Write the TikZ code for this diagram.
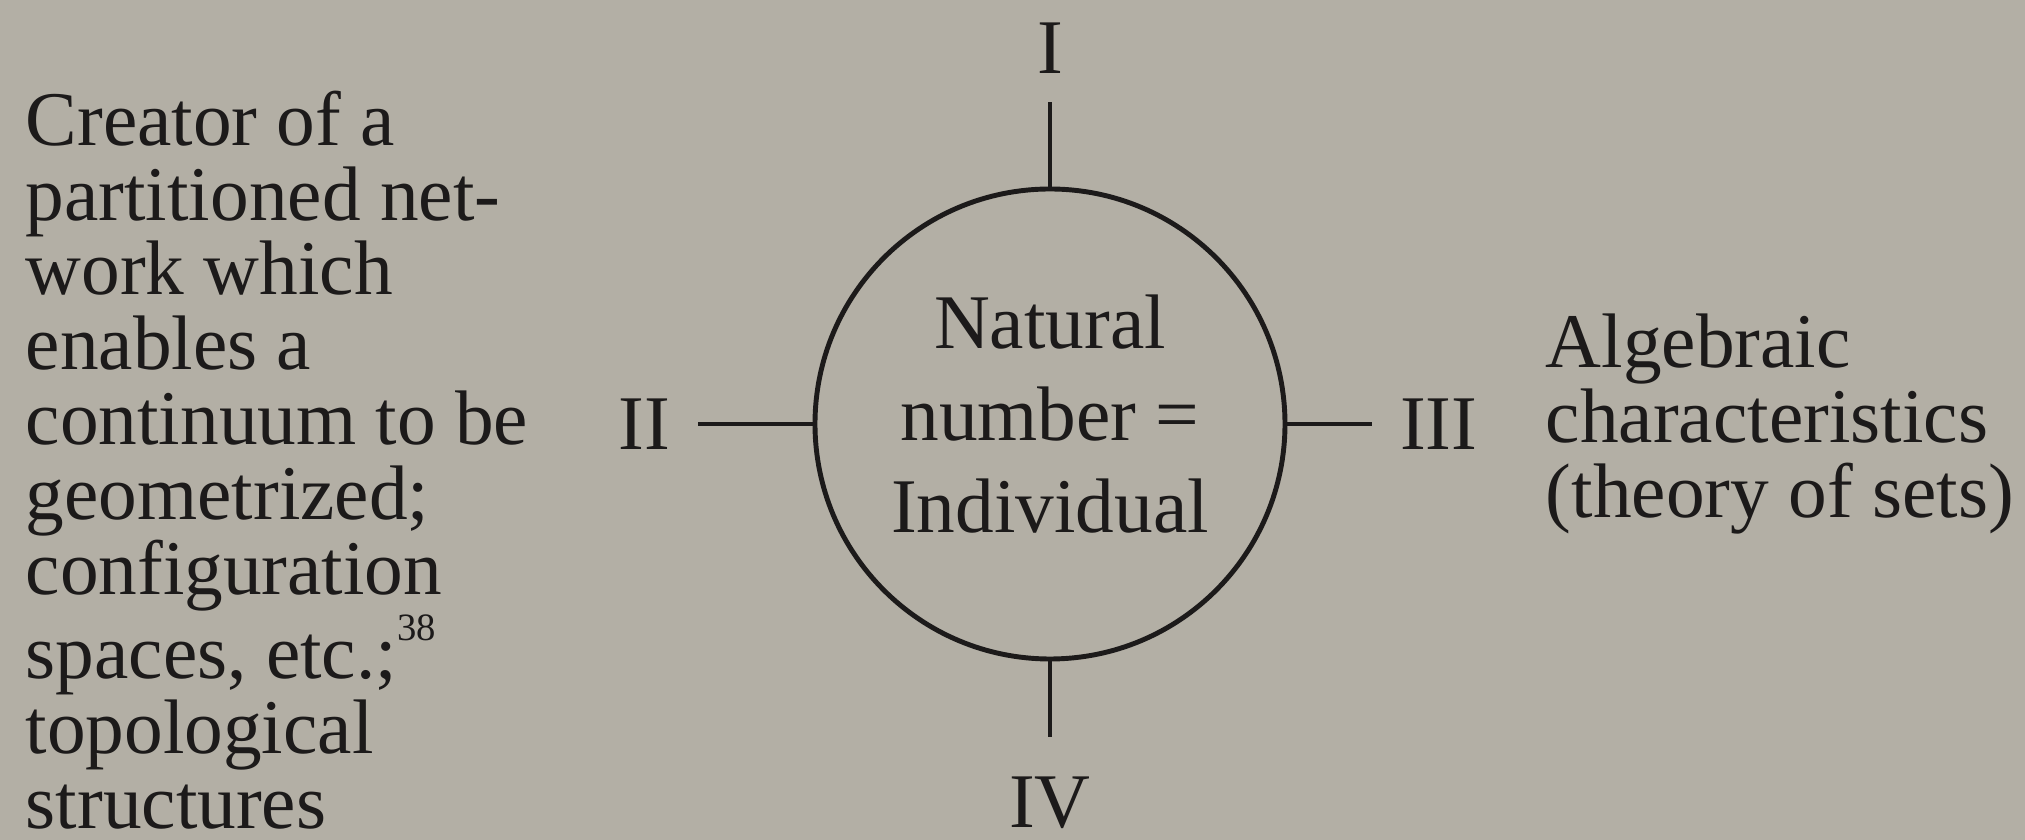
\documentclass[tikz,border=0pt]{standalone}
\usepackage{fontspec}
\setmainfont{Liberation Serif}
\usetikzlibrary{positioning}
\definecolor{paper}{HTML}{B3AFA5}
\definecolor{ink}{HTML}{1C1A1A}
\tikzset{
    numcircle/.style={
        circle, draw=ink, line width=1.4pt, minimum size=4.7cm,
        inner sep=0pt, text=ink, align=center, text depth=0.2cm,
        font=\fontsize{22}{26.2}\selectfont
    },
    romlab/.style={
        font=\fontsize{22}{22}\selectfont, text=ink, inner sep=0.27cm
    },
    sidetext/.style={
        font=\fontsize{22}{21.3}\selectfont, text=ink,
        align=left, inner sep=0pt
    },
    tickline/.style={
        draw=ink, line width=1.4pt
    },
}
\begin{document}
\begin{tikzpicture}

    % page
    \fill[paper] (0,0) rectangle (20.25,8.4);
    \useasboundingbox (0,0) rectangle (20.25,8.4);

    % centre circle
    \node[numcircle] (nat) at (10.50,4.16) {Natural\\number =\\Individual};

    % roman labels
    \node[romlab, above=0.85cm of nat] (one) {I};
    \node[romlab, left=1.15cm of nat] (two) {II};
    \node[romlab, right=0.85cm of nat] (three) {III};
    \node[romlab, below=0.88cm of nat] (four) {IV};

    % ticks
    \draw[tickline] (nat.north) -- (one.south);
    \draw[tickline] (nat.west) -- (two.east);
    \draw[tickline] (nat.east) -- (three.west);
    \draw[tickline, shorten >=0.12cm] (nat.south) -- (four.north);

    % side texts
    \node[sidetext, anchor=north west] (creator) at (0.25,7.50) {Creator of a\\partitioned net-\\work which\\enables a\\continuum to be\\geometrized;\\configuration\\spaces, etc.;\raisebox{0.5em}{\fontsize{11}{11}\selectfont 38}\\topological\\structures};
    \node[sidetext, right=0.40cm of three] (alg) {Algebraic\\characteristics\\(theory of sets)};

\end{tikzpicture}
\end{document}
